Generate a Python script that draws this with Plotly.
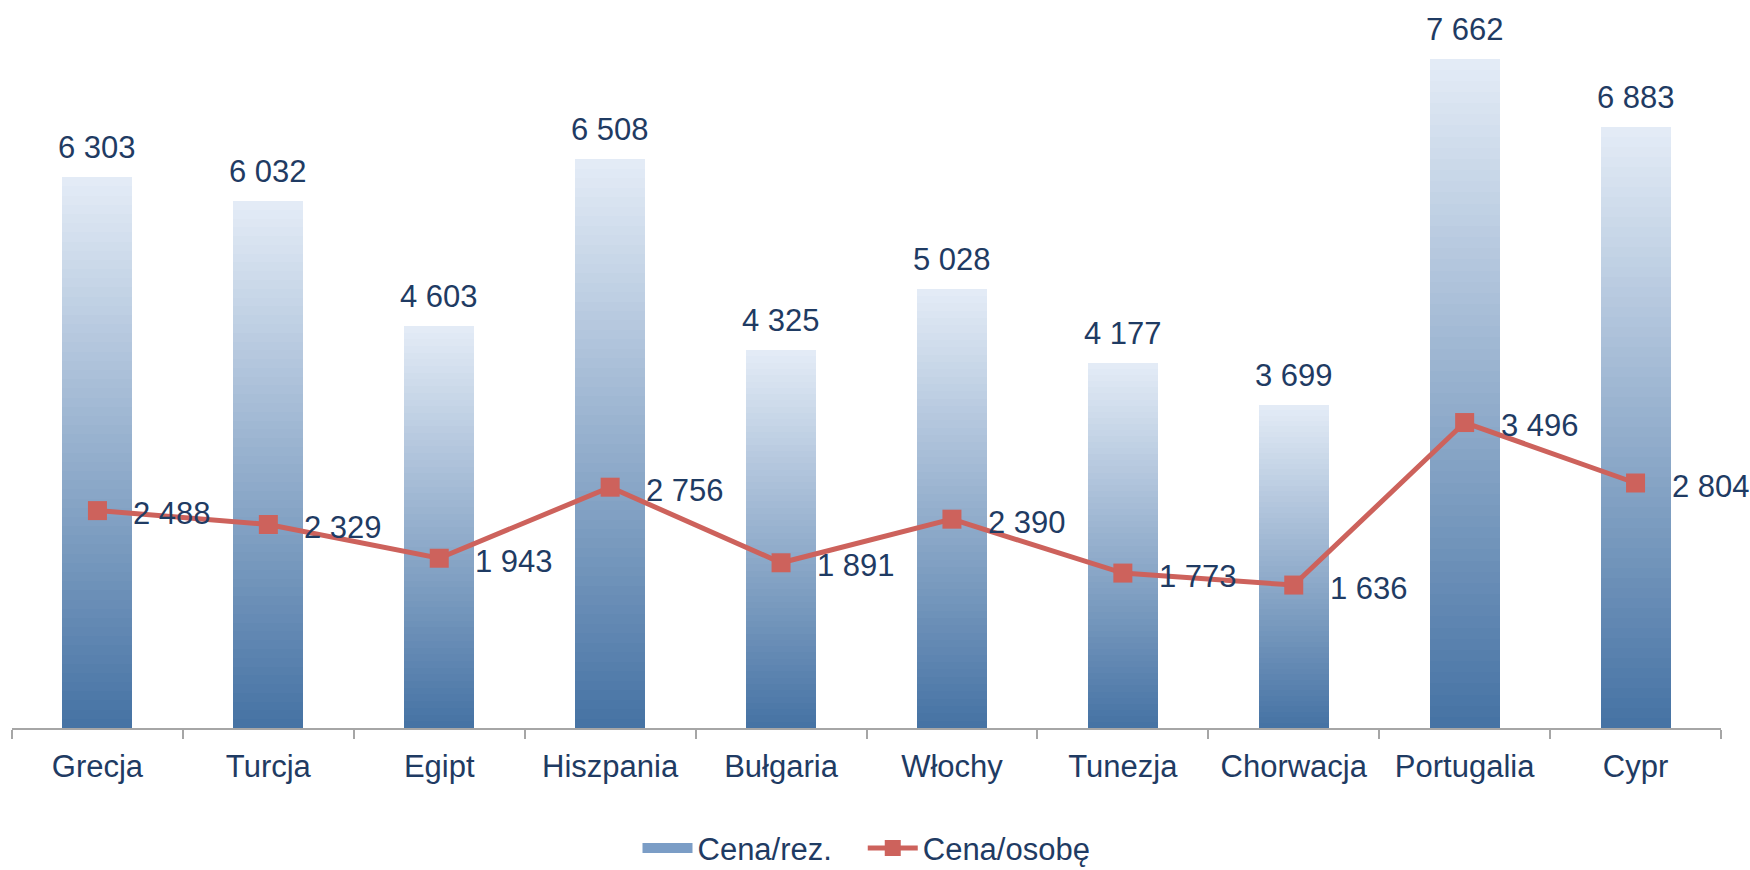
import plotly.graph_objects as go

categories = ["Grecja", "Turcja", "Egipt", "Hiszpania", "Bułgaria", "Włochy",
              "Tunezja", "Chorwacja", "Portugalia", "Cypr"]
cena_rez = [6303, 6032, 4603, 6508, 4325, 5028, 4177, 3699, 7662, 6883]
cena_osobe = [2488, 2329, 1943, 2756, 1891, 2390, 1773, 1636, 3496, 2804]

TEXT = "#1F3B63"
FONT = "Liberation Sans, Arial, sans-serif"
TOP_RGB = (227, 235, 246)
BOT_RGB = (70, 115, 164)
N = 60


def fmt(v):
    return f"{v:,}".replace(",", " ")


fig = go.Figure()

# gradient bars: each bar stacked from N slices of its own value
for i in range(N):
    t = i / (N - 1)
    r = round(BOT_RGB[0] + (TOP_RGB[0] - BOT_RGB[0]) * t)
    g = round(BOT_RGB[1] + (TOP_RGB[1] - BOT_RGB[1]) * t)
    b = round(BOT_RGB[2] + (TOP_RGB[2] - BOT_RGB[2]) * t)
    fig.add_trace(go.Bar(
        x=categories, y=[v / N for v in cena_rez],
        marker=dict(color=f"rgb({r},{g},{b})", line=dict(width=0)),
        showlegend=False, hoverinfo="skip",
    ))

# legend entry for bars (wide swatch)
fig.add_trace(go.Scatter(
    x=[None], y=[None], name="Cena/rez.&nbsp;&nbsp;&nbsp;", mode="lines",
    line=dict(color="#7B9DC6", width=17), showlegend=True,
))

fig.add_trace(go.Scatter(
    x=categories, y=cena_osobe, name="Cena/osobę", mode="lines+markers",
    line=dict(color="#CD625C", width=5),
    marker=dict(symbol="square", size=19, color="#CD625C"),
))

annotations = []
for c, v in zip(categories, cena_rez):
    annotations.append(dict(x=c, y=v, text=fmt(v), showarrow=False,
                            yanchor="bottom", yshift=10,
                            font=dict(size=31, color=TEXT, family=FONT)))
for c, v in zip(categories, cena_osobe):
    annotations.append(dict(x=c, y=v, text=fmt(v), showarrow=False,
                            xanchor="left", yanchor="middle", xshift=34, yshift=-3,
                            font=dict(size=31, color=TEXT, family=FONT)))

fig.update_layout(
    width=1750, height=870,
    margin=dict(l=12, r=29, t=29, b=142, autoexpand=False),
    barmode="stack", bargap=0.59,
    plot_bgcolor="white", paper_bgcolor="white",
    font=dict(family=FONT, size=31, color=TEXT),
    showlegend=True,
    legend=dict(orientation="h", x=0.5, xanchor="center", y=-0.172, yanchor="middle",
                font=dict(size=31, color=TEXT), traceorder="normal",
                itemwidth=50, tracegroupgap=0),
    annotations=annotations,
    xaxis=dict(type="category", range=[-0.5, len(categories) - 0.5],
               showline=True, linecolor="#A6A6A6", linewidth=2,
               ticks="outside", tickson="boundaries", ticklen=9, tickcolor="#A6A6A6",
               tickwidth=2, tickfont=dict(size=31, color=TEXT), showgrid=False,
               automargin=False, ticklabelstandoff=10),
    yaxis=dict(range=[0, 8000], visible=False, showgrid=False, zeroline=False,
               automargin=False),
)

fig.write_html(
    "out.html",
    config={"displayModeBar": False},
    post_script="document.body.style.margin='0';document.body.style.overflow='hidden';",
)
